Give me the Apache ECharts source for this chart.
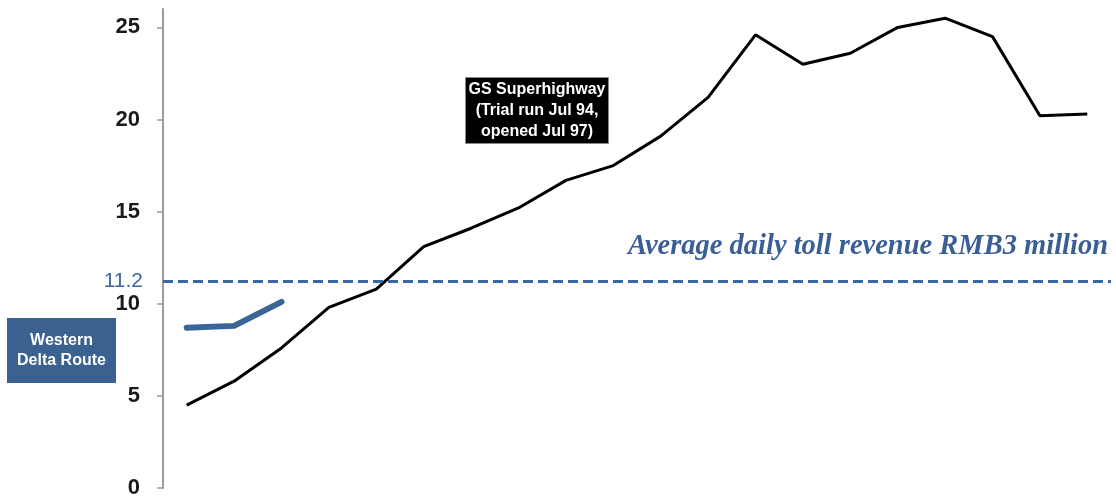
<!DOCTYPE html>
<html>
<head>
<meta charset="utf-8">
<script src="https://cdn.jsdelivr.net/npm/echarts@6/dist/echarts.min.js"></script>
<style>
  html, body { margin: 0; padding: 0; background: #ffffff; }
  #chart { width: 1116px; height: 499px; }
</style>
</head>
<body>
<div id="chart"></div>
<script>
// Periods along the horizontal axis (not labelled on the chart)
const periods = ['P1','P2','P3','P4','P5','P6','P7','P8','P9','P10',
                 'P11','P12','P13','P14','P15','P16','P17','P18','P19','P20'];

// GS Superhighway traffic (black line)
const gsSuperhighway = [4.5, 5.8, 7.6, 9.8, 10.8, 13.1, 14.1, 15.2, 16.7, 17.5,
                        19.1, 21.2, 24.6, 23.0, 23.6, 25.0, 25.5, 24.5, 20.2, 20.3];

// Western Delta Route traffic (blue line, first three periods only)
const westernDelta = [8.7, 8.8, 10.1];

// Break-even level for average daily toll revenue
const revenueLevel = 11.2;

// Y-axis tick values
const yTicks = [0, 5, 10, 15, 20, 25];

const chart = echarts.init(document.getElementById('chart'));

const narrow = "'Liberation Sans Narrow', 'Arial Narrow', 'Liberation Sans', sans-serif";

chart.setOption({
  animation: false,
  grid: { left: 163, right: 5, top: 9, bottom: 11, containLabel: false },
  xAxis: {
    type: 'category',
    data: periods,
    boundaryGap: true,
    axisLine: { show: false },
    axisTick: { show: false },
    axisLabel: { show: false },
    splitLine: { show: false }
  },
  yAxis: {
    type: 'value',
    min: 0,
    max: 26,
    axisLine: { show: true, lineStyle: { color: '#9a9a9a', width: 2 } },
    axisTick: { show: true, length: 6, customValues: yTicks, lineStyle: { color: '#9a9a9a', width: 1.5 } },
    axisLabel: {
      customValues: yTicks,
      margin: 23,
      fontFamily: narrow,
      fontWeight: 'bold',
      fontSize: 22,
      color: '#1a1a1a'
    },
    splitLine: { show: false }
  },
  series: [
    {
      name: 'GS Superhighway',
      type: 'line',
      data: gsSuperhighway,
      symbol: 'none',
      lineStyle: { color: '#000000', width: 3 },
      z: 3,
      markLine: {
        silent: true,
        symbol: 'none',
        lineStyle: { color: '#3b67a2', width: 3, type: [10, 5] },
        label: {
          show: true,
          position: 'start',
          distance: 20,
          formatter: String(revenueLevel),
          fontFamily: "'Liberation Sans', Arial, sans-serif",
          fontSize: 21,
          color: '#3b67a2'
        },
        data: [{ yAxis: revenueLevel }]
      }
    },
    {
      name: 'Western Delta Route',
      type: 'line',
      data: westernDelta,
      symbol: 'none',
      lineStyle: { color: '#3c6597', width: 6, cap: 'round', join: 'round' },
      z: 2
    }
  ],
  graphic: [
    {
      type: 'text',
      right: 8,
      top: 232,
      style: {
        text: 'Average daily toll revenue RMB3 million',
        font: "italic bold 28.5px 'Liberation Serif', 'Times New Roman', serif",
        fill: '#3a5f96'
      }
    },
    {
      type: 'group',
      left: 465,
      top: 77,
      children: [
        { type: 'rect', shape: { x: 0, y: 0, width: 143, height: 66 },
          style: { fill: '#000000', stroke: '#888888', lineWidth: 1 } },
        { type: 'text', x: 71.5, y: 33,
          style: {
            text: 'GS Superhighway\n(Trial run Jul 94,\nopened Jul 97)',
            font: "bold 16px " + narrow,
            fill: '#ffffff',
            align: 'center',
            verticalAlign: 'middle',
            lineHeight: 21
          } }
      ]
    },
    {
      type: 'group',
      left: 7,
      top: 318,
      children: [
        { type: 'rect', shape: { x: 0, y: 0, width: 109, height: 65 },
          style: { fill: '#3a6190' } },
        { type: 'text', x: 54.5, y: 33,
          style: {
            text: 'Western\nDelta Route',
            font: "bold 16px " + narrow,
            fill: '#ffffff',
            align: 'center',
            verticalAlign: 'middle',
            lineHeight: 20
          } }
      ]
    }
  ]
});
</script>
</body>
</html>
